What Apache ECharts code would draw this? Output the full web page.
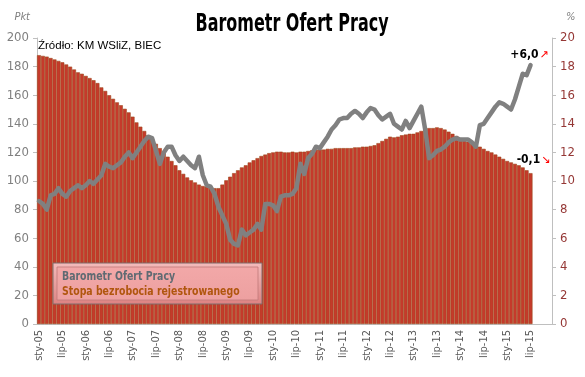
<!DOCTYPE html>
<html>
<head>
<meta charset="utf-8">
<script src="https://cdn.jsdelivr.net/npm/echarts@6/dist/echarts.min.js"></script>
<style>
  html, body { margin: 0; padding: 0; background: #fff; }
  #chart { width: 585px; height: 377px; }
</style>
</head>
<body>
<div id="chart"></div>
<script>
// miesiące sty-05 .. gru-15
const monthNames = ["sty", "lut", "mar", "kwi", "maj", "cze", "lip", "sie", "wrz", "paź", "lis", "gru"];
const months = [];
for (let y = 5; y <= 15; y++) {
  for (let m = 0; m < 12; m++) {
    months.push(monthNames[m] + "-" + String(y).padStart(2, "0"));
  }
}

// Barometr Ofert Pracy (pkt, lewa oś)
const barometr = [
  86, 84, 80, 90, 91, 95, 91, 89, 93, 95, 97, 95,
  97, 100, 98, 101, 104, 112, 110, 109, 111, 113, 117, 120,
  116, 120, 124, 128, 131, 130, 121, 112, 120, 124, 124, 118,
  114, 117, 114, 111, 109, 117, 104, 97, 96, 91, 82, 76,
  70, 59, 56, 55, 66, 62, 64, 66, 70, 66, 84, 84,
  83, 79, 89, 90, 90, 91, 95, 112, 105, 116, 119, 124,
  123, 127, 131, 136, 139, 143, 144, 144, 147, 149, 147, 144,
  148, 151, 150, 146, 143, 145, 147, 140, 138, 136, 142, 137,
  142, 147, 152, 136, 116, 118, 121, 122, 124, 127, 129, 130,
  129, 129, 129, 127, 124, 139, 140, 144, 148, 152, 155, 154,
  152, 150, 157, 166, 175, 174, 181
];

// Stopa bezrobocia rejestrowanego (%, prawa oś)
const bezrobocie = [
  18.8, 18.75, 18.7, 18.6, 18.5, 18.4, 18.3, 18.15, 18.0, 17.8, 17.6, 17.5,
  17.35, 17.2, 17.05, 16.85, 16.55, 16.3, 16.0, 15.75, 15.5, 15.3, 15.05, 14.8,
  14.5, 14.1, 13.8, 13.5, 13.2, 12.95, 12.6, 12.3, 12.05, 11.7, 11.4, 11.1,
  10.75, 10.5, 10.25, 10.05, 9.9, 9.75, 9.65, 9.6, 9.55, 9.5, 9.5, 9.75,
  10.05, 10.3, 10.55, 10.75, 10.95, 11.1, 11.3, 11.45, 11.6, 11.75, 11.85, 11.95,
  12.0, 12.05, 12.05, 12.0, 12.0, 12.05, 12.0, 12.05, 12.05, 12.1, 12.15, 12.2,
  12.2, 12.2, 12.25, 12.25, 12.3, 12.3, 12.3, 12.3, 12.3, 12.35, 12.35, 12.4,
  12.4, 12.45, 12.5, 12.65, 12.8, 12.95, 13.1, 13.05, 13.1, 13.2, 13.25, 13.3,
  13.3, 13.4, 13.5, 13.6, 13.7, 13.7, 13.75, 13.7, 13.6, 13.45, 13.3, 13.15,
  13.0, 12.9, 12.75, 12.6, 12.5, 12.4, 12.25, 12.1, 12.0, 11.85, 11.7, 11.55,
  11.4, 11.3, 11.2, 11.1, 10.95, 10.75, 10.55
];

const narrow = '"DejaVu Sans Condensed", "Liberation Sans Narrow", sans-serif';
const every6 = (index) => index % 6 === 0;

const chart = echarts.init(document.getElementById("chart"));

const changeRich = {
  a: { fontFamily: narrow, fontWeight: "bold", fontSize: 12, color: "#000" },
  b: { fontFamily: "DejaVu Sans", fontSize: 11, color: "#ff0000", padding: [0, 0, 0, 1] }
};

// etykiety zmian przy ostatnich punktach
const lineData = barometr.map((v, i) => i === barometr.length - 1 ? {
  value: v,
  label: { show: true, position: "top", distance: 4, offset: [-1, 0], formatter: "{a|+6,0}{b|↗}", rich: changeRich }
} : v);

const barData = bezrobocie.map((v, i) => i === bezrobocie.length - 1 ? {
  value: v,
  label: { show: true, position: "top", distance: 7, offset: [3, 0], formatter: "{a|-0,1}{b|↘}", rich: changeRich }
} : v);

const option = {
  animation: false,
  backgroundColor: "#fff",
  grid: { left: 37, right: 33, top: 38, bottom: 53 },
  xAxis: {
    type: "category",
    data: months,
    boundaryGap: true,
    axisLine: { lineStyle: { color: "#bfbfbf" } },
    axisTick: { interval: every6, length: 4, lineStyle: { color: "#bfbfbf" } },
    axisLabel: {
      interval: every6,
      rotate: 90,
      margin: 6,
      color: "#595959",
      fontFamily: narrow,
      fontSize: 11
    }
  },
  yAxis: [
    {
      type: "value",
      name: "Pkt",
      nameLocation: "end",
      nameGap: 15,
      nameTextStyle: { fontFamily: narrow, fontStyle: "italic", fontSize: 11, color: "#7f7f7f", align: "right", padding: [0, 7, 0, 0] },
      min: 0, max: 200, interval: 20,
      axisLine: { show: true, lineStyle: { color: "#bfbfbf" } },
      axisTick: { show: true, length: 4, lineStyle: { color: "#bfbfbf" } },
      splitLine: { show: false },
      axisLabel: { color: "#808080", fontFamily: narrow, fontSize: 13, margin: 8 }
    },
    {
      type: "value",
      name: "%",
      nameLocation: "end",
      nameGap: 15,
      nameTextStyle: { fontFamily: narrow, fontStyle: "italic", fontSize: 11, color: "#7f7f7f", align: "left", padding: [0, 0, 0, 14] },
      min: 0, max: 20, interval: 2,
      axisLine: { show: true, lineStyle: { color: "#bfbfbf" } },
      axisTick: { show: true, length: 4, lineStyle: { color: "#bfbfbf" } },
      splitLine: { show: false },
      axisLabel: { color: "#953735", fontFamily: narrow, fontSize: 13, margin: 8 }
    }
  ],
  graphic: [
    {
      type: "text", x: 292, y: 25, scaleX: 0.74, z: 100,
      style: {
        text: "Barometr Ofert Pracy", fontFamily: narrow, fontWeight: "bold", fontSize: 24,
        fill: "#000", align: "center", verticalAlign: "middle"
      }
    },
    {
      type: "text", left: 38, top: 40, z: 100,
      style: { text: "Źródło: KM WSliZ, BIEC", fontFamily: "Liberation Sans, Arial, sans-serif", fontSize: 11.5, fill: "#000" }
    },
    {
      type: "group", x: 53, y: 263, z: 100,
      children: [
        {
          type: "rect", z: 100, shape: { x: 0, y: 0, width: 209, height: 41 },
          style: {
            fill: new echarts.graphic.LinearGradient(0, 0, 0, 1, [
              { offset: 0, color: "#f4bcbc" },
              { offset: 1, color: "#dd8282" }
            ]),
            stroke: "#7f6a6a", lineWidth: 1
          }
        },
        {
          type: "rect", z: 101, shape: { x: 4, y: 4, width: 201, height: 33 },
          style: {
            fill: new echarts.graphic.LinearGradient(0, 0, 0, 1, [
              { offset: 0, color: "#f2a8a8" },
              { offset: 1, color: "#eda0a0" }
            ]),
            stroke: "#c07878", lineWidth: 0.8
          }
        },
        {
          type: "text", z: 102, x: 9, y: 7, scaleX: 0.8,
          style: { text: "Barometr Ofert Pracy", fontFamily: narrow, fontWeight: "bold", fontSize: 13, fill: "#5f6a72" }
        },
        {
          type: "text", z: 102, x: 9, y: 22, scaleX: 0.8,
          style: { text: "Stopa bezrobocia rejestrowanego", fontFamily: narrow, fontWeight: "bold", fontSize: 13, fill: "#b0560e" }
        }
      ]
    }
  ],
  series: [
    {
      name: "Stopa bezrobocia rejestrowanego",
      type: "bar",
      yAxisIndex: 1,
      barCategoryGap: "0%",
      data: barData,
      itemStyle: { color: "#c53a2b", borderColor: "#9e4a1c", borderWidth: 0.6 },
      z: 1
    },
    {
      name: "Barometr Ofert Pracy",
      type: "line",
      yAxisIndex: 0,
      data: lineData,
      symbol: "circle",
      symbolSize: 0.1,
      showSymbol: true,
      showAllSymbol: true,
      itemStyle: { color: "rgba(0,0,0,0)" },
      lineStyle: { color: "#808080", width: 4.5, join: "round", cap: "round" },
      z: 3
    }
  ]
};

chart.setOption(option);
</script>
</body>
</html>
